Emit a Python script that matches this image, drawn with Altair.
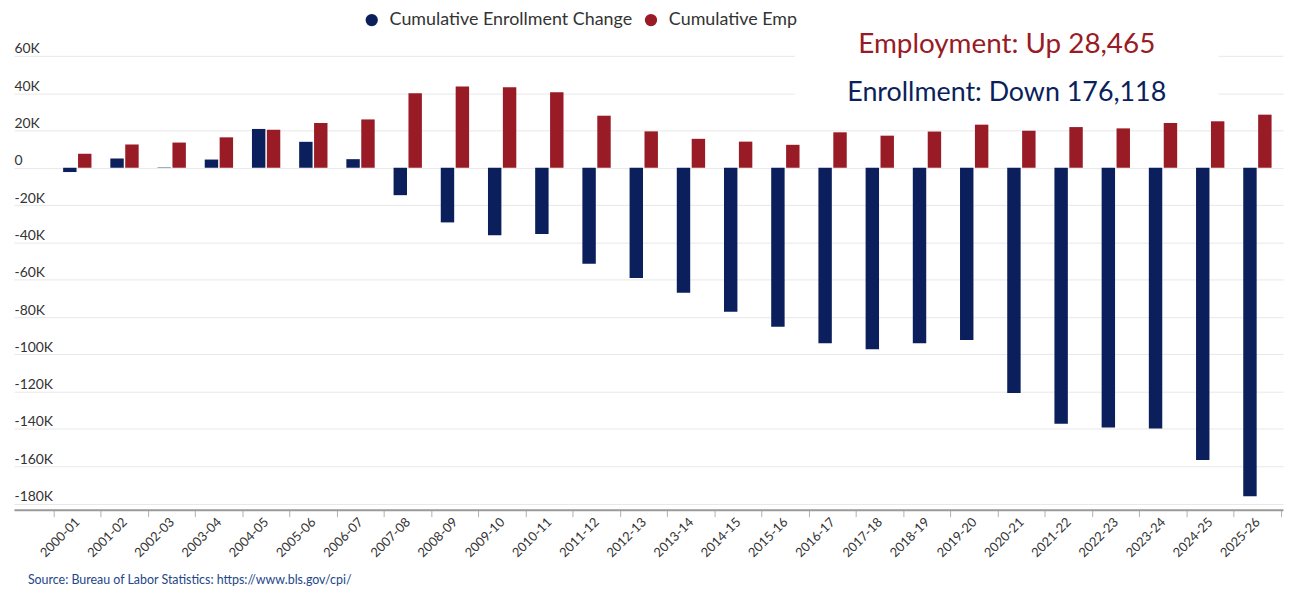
import altair as alt
import pandas as pd

seasons = ["2000-01", "2001-02", "2002-03", "2003-04", "2004-05", "2005-06", "2006-07",
           "2007-08", "2008-09", "2009-10", "2010-11", "2011-12", "2012-13", "2013-14",
           "2014-15", "2015-16", "2016-17", "2017-18", "2018-19", "2019-20", "2020-21",
           "2021-22", "2022-23", "2023-24", "2024-25", "2025-26"]
enrollment_change = [-2300, 5000, 200, 4400, 20800, 13900, 4600, -14700, -29300, -36200,
                     -35500, -51500, -59100, -67000, -77200, -85200, -94100, -97300, -94100,
                     -92300, -120800, -137300, -139200, -139800, -156600, -176118]
employment_change = [7500, 12400, 13500, 16300, 20400, 24000, 25900, 40000, 43500, 43200,
                     40500, 27900, 19500, 15500, 14000, 12300, 19000, 17200, 19400, 23100,
                     19900, 21800, 21100, 24000, 24900, 28465]
series_names = ["Cumulative Enrollment Change", "Cumulative Employment Change"]
series_colors = ["#0b1f5c", "#981b25"]
y_ticks = list(range(-180000, 60001, 20000))
source_note = "Source: Bureau of Labor Statistics: https://www.bls.gov/cpi/"

rows = []
for s, e, m in zip(seasons, enrollment_change, employment_change):
    rows.append({"season": s, "series": series_names[0], "value": e})
    rows.append({"season": s, "series": series_names[1], "value": m})
df = pd.DataFrame(rows)

# white annotation box behind the callout text (hides gridlines there)
box = alt.Chart(pd.DataFrame({"k": [0]})).mark_rect(color="white").encode(
    x=alt.value(786), x2=alt.value(1212), y=alt.value(-46), y2=alt.value(56)
)

bars = alt.Chart(df).mark_bar().encode(
    x=alt.X("season:N", sort=seasons,
            scale=alt.Scale(paddingInner=0, paddingOuter=0.442, align=0.952),
            axis=alt.Axis(title=None, domain=True, domainColor="#9a9a9a", domainWidth=2,
                          ticks=True, tickColor="#b0b0b0", tickSize=7, tickWidth=1,
                          tickBand="extent", labelAngle=315, labelAlign="right",
                          labelBaseline="middle", labelPadding=3, labelFontSize=13,
                          labelColor="#333333", labelOverlap=False, grid=False)),
    xOffset=alt.XOffset("series:N", sort=series_names,
                        scale=alt.Scale(paddingInner=0.1, paddingOuter=0.633)),
    y=alt.Y("value:Q",
            scale=alt.Scale(domain=[-183300, 60000], nice=False, zero=True),
            axis=alt.Axis(title=None, values=y_ticks, domain=False, ticks=False, tickSize=0,
                          grid=True, gridColor="#e8e8e8", gridWidth=1,
                          labelAlign="left", labelBaseline="alphabetic", labelPadding=0,
                          labelOffset=-3, labelFontSize=14, labelColor="#333333",
                          labelExpr="datum.value == 0 ? '0' : (datum.value / 1000) + 'K'")),
    color=alt.Color("series:N", sort=series_names,
                    scale=alt.Scale(domain=series_names, range=series_colors),
                    legend=alt.Legend(orient="none", legendX=351, legendY=-45,
                                      direction="horizontal", title=None,
                                      symbolType="circle", symbolSize=154,
                                      symbolStrokeWidth=0, symbolOpacity=1,
                                      labelFontSize=18, labelColor="#333333",
                                      labelOffset=9, columnPadding=9, padding=0,
                                      labelLimit=400,
                                      labelExpr="datum.label == 'Cumulative Employment Change' ? 'Cumulative Emp' : datum.label")),
)

emp_text = alt.Chart(pd.DataFrame({"t": [f"Employment: Up {employment_change[-1]:,}"]})).mark_text(
    align="center", baseline="alphabetic", fontSize=28, color="#981b25"
).encode(text="t:N", x=alt.value(999), y=alt.value(-2.6))

enr_text = alt.Chart(pd.DataFrame({"t": [f"Enrollment: Down {-enrollment_change[-1]:,}"]})).mark_text(
    align="center", baseline="alphabetic", fontSize=27, color="#0b1f5c"
).encode(text="t:N", x=alt.value(999), y=alt.value(45))

src_text = alt.Chart(pd.DataFrame({"t": [source_note]})).mark_text(
    align="left", baseline="alphabetic", fontSize=12.5, color="#23468a"
).encode(text="t:N", x=alt.value(14), y=alt.value(531.7))

chart = alt.layer(box, bars, emp_text, enr_text, src_text).properties(
    width=1277, height=456.7,
    padding={"left": 6, "top": 46.3, "right": 3, "bottom": 80},
    autosize="none",
).configure(font="Lato").configure_view(stroke=None)

chart.save("out.html", embed_options={"renderer": "svg", "actions": False})
